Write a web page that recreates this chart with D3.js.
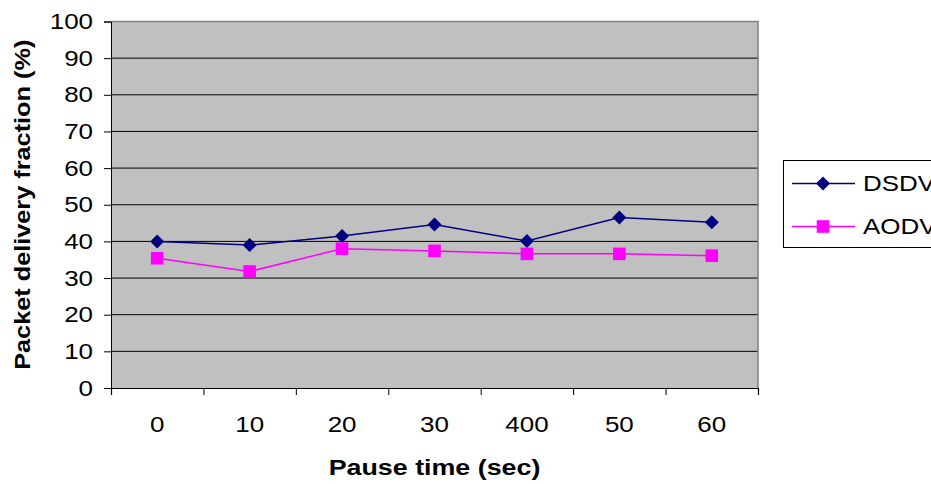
<!DOCTYPE html>
<html>
<head>
<meta charset="utf-8">
<script src="https://cdn.jsdelivr.net/npm/d3@7"></script>
<style>
  body { margin: 0; background: #fff; }
  text { font-family: "Liberation Sans", Arial, sans-serif; }
</style>
</head>
<body>
<svg id="chart"></svg>
<script>
const width = 931, height = 484;
const margin = { top: 21.5, right: 173, bottom: 96, left: 111 };

// data
const pauseTimes = ["0", "10", "20", "30", "400", "50", "60"];
const dsdv = [40.0, 39.0, 41.5, 44.6, 40.1, 46.5, 45.2];
const aodv = [35.4, 31.8, 38.0, 37.4, 36.6, 36.6, 36.1];
const yTicks = [0, 10, 20, 30, 40, 50, 60, 70, 80, 90, 100];

const seriesList = [
  { name: "DSDV", values: dsdv, color: "#000080", marker: "diamond" },
  { name: "AODV", values: aodv, color: "#ff00ff", marker: "square" }
];

const stretch = 1.18; // the original font renders wider than Arial

const svg = d3.select("#chart")
  .attr("width", width)
  .attr("height", height);

const x = d3.scaleBand()
  .domain(pauseTimes)
  .range([margin.left, width - margin.right])
  .padding(0);

const xEdge = d3.scaleLinear()
  .domain([0, pauseTimes.length])
  .range([margin.left, width - margin.right]);

const y = d3.scaleLinear()
  .domain([0, 100])
  .range([height - margin.bottom, margin.top]);

// plot background
svg.append("rect")
  .attr("x", margin.left)
  .attr("y", margin.top)
  .attr("width", width - margin.right - margin.left)
  .attr("height", y(0) - margin.top)
  .attr("fill", "#c0c0c0");

// gridlines
svg.append("g")
  .selectAll("line")
  .data(yTicks.filter(d => d > 0 && d < 100))
  .join("line")
  .attr("x1", margin.left)
  .attr("x2", width - margin.right)
  .attr("y1", d => y(d))
  .attr("y2", d => y(d))
  .attr("stroke", "#000")
  .attr("stroke-width", 1);

// top and right border of plot area
svg.append("path")
  .attr("d", `M${margin.left},${y(100)}H${width - margin.right}V${y(0)}`)
  .attr("fill", "none")
  .attr("stroke", "#808080")
  .attr("stroke-width", 1.5);

// y axis
const yAxis = svg.append("g")
  .attr("transform", `translate(${margin.left},0)`)
  .call(d3.axisLeft(y).tickValues(yTicks).tickSize(7).tickPadding(11));
yAxis.select(".domain").attr("stroke", "#000");
yAxis.selectAll("text")
  .attr("font-size", 22)
  .attr("fill", "#000")
  .attr("transform", function () {
    const tx = d3.select(this).attr("x");
    d3.select(this).attr("x", 0);
    return `translate(${tx},0) scale(${stretch},1)`;
  });

// x axis: tick marks at category edges
const xTickG = svg.append("g")
  .attr("transform", `translate(0,${y(0)})`)
  .call(d3.axisBottom(xEdge).tickValues(d3.range(pauseTimes.length + 1)).tickSize(7).tickFormat(""));
xTickG.select(".domain").attr("stroke", "#000").attr("stroke-width", 1.2);

// x axis labels at category centers
const xLab = svg.append("g")
  .attr("transform", `translate(0,${y(0)})`)
  .call(d3.axisBottom(x).tickSize(0));
xLab.select(".domain").remove();
xLab.selectAll("text")
  .attr("font-size", 22)
  .attr("fill", "#000")
  .attr("y", 44)
  .attr("dy", 0)
  .attr("transform", `scale(${stretch},1)`)
  .attr("x", 0);

// lines and markers
const line = d3.line()
  .x((d, i) => x(pauseTimes[i]) + x.bandwidth() / 2)
  .y(d => y(d));

const diamond = s => `M0,${-s}L${s},0L0,${s}L${-s},0Z`;
const square = s => `M${-s},${-s}H${s}V${s}H${-s}Z`;
const markerPath = m => m === "diamond" ? diamond(7) : square(6.3);

seriesList.forEach(s => {
  svg.append("path")
    .datum(s.values)
    .attr("d", line)
    .attr("fill", "none")
    .attr("stroke", s.color)
    .attr("stroke-width", 1.5);

  svg.append("g")
    .selectAll("path")
    .data(s.values)
    .join("path")
    .attr("transform", (d, i) => `translate(${x(pauseTimes[i]) + x.bandwidth() / 2},${y(d)})`)
    .attr("d", markerPath(s.marker))
    .attr("fill", s.color);
});

// axis titles
svg.append("text")
  .attr("transform", `translate(${(margin.left + width - margin.right) / 2},475) scale(1.22,1)`)
  .attr("text-anchor", "middle")
  .attr("font-size", 22)
  .attr("font-weight", "bold")
  .text("Pause time (sec)");

svg.append("text")
  .attr("transform", `translate(30,${(margin.top + y(0)) / 2}) rotate(-90) scale(1.15,1)`)
  .attr("text-anchor", "middle")
  .attr("font-size", 22)
  .attr("font-weight", "bold")
  .text("Packet delivery fraction (%)");

// legend
const legend = svg.append("g");
legend.append("rect")
  .attr("x", 783.5)
  .attr("y", 160.5)
  .attr("width", 170)
  .attr("height", 87)
  .attr("fill", "#fff")
  .attr("stroke", "#000")
  .attr("stroke-width", 1);

const legendRow = d3.scalePoint()
  .domain(seriesList.map(d => d.name))
  .range([183.5, 226.5]);

seriesList.forEach(s => {
  const g = legend.append("g").attr("transform", `translate(0,${legendRow(s.name)})`);
  g.append("line")
    .attr("x1", 792).attr("x2", 855)
    .attr("stroke", s.color)
    .attr("stroke-width", 1.5);
  g.append("path")
    .attr("transform", "translate(823,0)")
    .attr("d", markerPath(s.marker))
    .attr("fill", s.color);
  g.append("text")
    .attr("transform", `translate(863,0) scale(${stretch},1)`)
    .attr("dy", "0.36em")
    .attr("font-size", 22)
    .text(s.name);
});
</script>
</body>
</html>
